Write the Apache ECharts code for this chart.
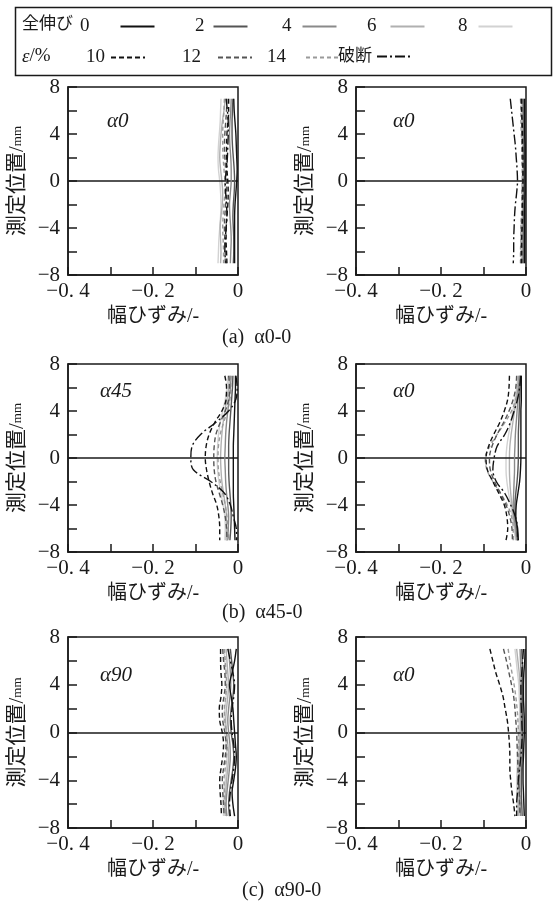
<!DOCTYPE html>
<html>
<head>
<meta charset="utf-8">
<script src="https://cdn.jsdelivr.net/npm/echarts/dist/echarts.min.js"></script>
<style>
html,body{margin:0;padding:0;background:#fff}
#main{width:553px;height:902px}
</style>
</head>
<body>
<div id="main"></div>
<script>
// 測定位置 (mm) - same for every curve
var yPos = [7, 6, 5, 4, 3, 2, 1, 0, -1, -2, -3, -4, -5, -6, -7];
// 全伸び ε/%
var strainNames = ['0', '2', '4', '6', '8', '10', '12', '14', '破断'];
var xTickLabels = ['−0. 4', '', '−0. 2', '', '0'];
var yTickLabels = ['−8', '', '−4', '', '0', '', '4', '', '8'];
var panelTags = ['α0', 'α0', 'α45', 'α0', 'α90', 'α0'];
var captions = ['(a)  α0-0', '(b)  α45-0', '(c)  α90-0'];

// 幅ひずみ, one row per strain (0,2,4,6,8,10,12,14,破断), values at yPos
var panelA_left = [
  [-0.010,-0.009,-0.007,-0.005,-0.004,-0.003,-0.002,-0.003,-0.005,-0.007,-0.008,-0.008,-0.008,-0.008,-0.008],
  [-0.012,-0.013,-0.014,-0.014,-0.013,-0.011,-0.009,-0.008,-0.009,-0.011,-0.012,-0.011,-0.010,-0.010,-0.011],
  [-0.016,-0.017,-0.019,-0.020,-0.019,-0.017,-0.016,-0.016,-0.018,-0.020,-0.019,-0.017,-0.016,-0.017,-0.018],
  [-0.030,-0.033,-0.037,-0.040,-0.042,-0.043,-0.041,-0.038,-0.036,-0.037,-0.040,-0.042,-0.041,-0.040,-0.041],
  [-0.040,-0.041,-0.042,-0.044,-0.046,-0.047,-0.046,-0.043,-0.041,-0.040,-0.041,-0.043,-0.045,-0.046,-0.047],
  [-0.022,-0.022,-0.024,-0.026,-0.027,-0.027,-0.026,-0.024,-0.023,-0.024,-0.026,-0.028,-0.028,-0.027,-0.026],
  [-0.026,-0.027,-0.029,-0.031,-0.032,-0.031,-0.029,-0.027,-0.027,-0.029,-0.031,-0.032,-0.031,-0.030,-0.030],
  [-0.032,-0.033,-0.035,-0.036,-0.036,-0.035,-0.033,-0.031,-0.031,-0.033,-0.035,-0.036,-0.035,-0.034,-0.034],
  [-0.028,-0.025,-0.023,-0.023,-0.024,-0.025,-0.027,-0.030,-0.029,-0.027,-0.026,-0.028,-0.030,-0.031,-0.028]
];
var panelA_right = [
  [-0.003,-0.003,-0.003,-0.003,-0.002,-0.002,-0.002,-0.002,-0.002,-0.003,-0.003,-0.003,-0.003,-0.003,-0.003],
  [-0.005,-0.005,-0.005,-0.004,-0.004,-0.004,-0.004,-0.004,-0.004,-0.004,-0.005,-0.005,-0.005,-0.005,-0.005],
  [-0.007,-0.007,-0.006,-0.006,-0.005,-0.005,-0.005,-0.005,-0.005,-0.006,-0.006,-0.007,-0.007,-0.007,-0.007],
  [-0.009,-0.008,-0.008,-0.007,-0.007,-0.006,-0.006,-0.006,-0.007,-0.007,-0.008,-0.008,-0.009,-0.009,-0.009],
  [-0.011,-0.010,-0.009,-0.009,-0.008,-0.008,-0.007,-0.007,-0.008,-0.009,-0.009,-0.010,-0.010,-0.011,-0.011],
  [-0.010,-0.010,-0.009,-0.008,-0.008,-0.007,-0.007,-0.007,-0.007,-0.008,-0.008,-0.009,-0.010,-0.010,-0.010],
  [-0.012,-0.011,-0.010,-0.010,-0.009,-0.009,-0.008,-0.008,-0.009,-0.009,-0.010,-0.011,-0.011,-0.012,-0.012],
  [-0.013,-0.012,-0.012,-0.011,-0.010,-0.010,-0.009,-0.009,-0.010,-0.010,-0.011,-0.012,-0.012,-0.013,-0.013],
  [-0.037,-0.034,-0.031,-0.028,-0.025,-0.023,-0.021,-0.020,-0.022,-0.025,-0.027,-0.028,-0.029,-0.029,-0.030]
];
var panelB_left = [
  [-0.006,-0.006,-0.007,-0.008,-0.009,-0.010,-0.011,-0.011,-0.011,-0.011,-0.011,-0.010,-0.009,-0.008,-0.007],
  [-0.012,-0.013,-0.015,-0.017,-0.019,-0.021,-0.022,-0.022,-0.022,-0.021,-0.019,-0.017,-0.016,-0.017,-0.019],
  [-0.016,-0.018,-0.021,-0.024,-0.027,-0.029,-0.030,-0.031,-0.030,-0.029,-0.027,-0.024,-0.022,-0.023,-0.024],
  [-0.020,-0.022,-0.026,-0.031,-0.035,-0.038,-0.040,-0.041,-0.040,-0.038,-0.034,-0.030,-0.027,-0.027,-0.028],
  [-0.024,-0.026,-0.030,-0.036,-0.042,-0.046,-0.048,-0.049,-0.048,-0.045,-0.040,-0.035,-0.031,-0.030,-0.031],
  [-0.031,-0.027,-0.028,-0.038,-0.055,-0.068,-0.075,-0.077,-0.074,-0.068,-0.060,-0.050,-0.045,-0.043,-0.043],
  [-0.022,-0.020,-0.022,-0.030,-0.042,-0.052,-0.056,-0.057,-0.056,-0.052,-0.044,-0.036,-0.030,-0.027,-0.026],
  [-0.018,-0.017,-0.019,-0.025,-0.034,-0.042,-0.046,-0.047,-0.046,-0.042,-0.036,-0.030,-0.026,-0.023,-0.022],
  [-0.005,-0.002,-0.005,-0.022,-0.053,-0.088,-0.108,-0.111,-0.105,-0.064,-0.032,-0.018,-0.011,-0.004,-0.003]
];
var panelB_right = [
  [-0.011,-0.011,-0.011,-0.012,-0.012,-0.012,-0.012,-0.012,-0.013,-0.015,-0.019,-0.023,-0.024,-0.020,-0.018],
  [-0.013,-0.014,-0.015,-0.016,-0.017,-0.018,-0.018,-0.018,-0.019,-0.021,-0.024,-0.026,-0.025,-0.021,-0.019],
  [-0.015,-0.017,-0.019,-0.021,-0.023,-0.025,-0.026,-0.027,-0.027,-0.028,-0.029,-0.030,-0.028,-0.024,-0.021],
  [-0.017,-0.020,-0.023,-0.027,-0.031,-0.035,-0.038,-0.039,-0.039,-0.038,-0.036,-0.033,-0.030,-0.026,-0.023],
  [-0.019,-0.022,-0.026,-0.031,-0.036,-0.041,-0.045,-0.047,-0.047,-0.045,-0.041,-0.036,-0.032,-0.028,-0.025],
  [-0.039,-0.040,-0.043,-0.051,-0.062,-0.076,-0.088,-0.094,-0.091,-0.078,-0.064,-0.051,-0.045,-0.043,-0.047],
  [-0.022,-0.024,-0.030,-0.040,-0.053,-0.068,-0.080,-0.086,-0.084,-0.074,-0.060,-0.047,-0.038,-0.033,-0.032],
  [-0.016,-0.018,-0.024,-0.034,-0.050,-0.068,-0.085,-0.096,-0.092,-0.078,-0.060,-0.044,-0.034,-0.030,-0.030],
  [-0.012,-0.015,-0.020,-0.028,-0.037,-0.050,-0.068,-0.075,-0.078,-0.070,-0.050,-0.036,-0.025,-0.020,-0.020]
];
var panelC_left = [
  [-0.004,-0.008,-0.014,-0.020,-0.016,-0.012,-0.010,-0.008,-0.006,-0.004,-0.006,-0.010,-0.014,-0.012,-0.008],
  [-0.018,-0.015,-0.012,-0.010,-0.012,-0.016,-0.018,-0.016,-0.012,-0.010,-0.012,-0.016,-0.020,-0.022,-0.020],
  [-0.022,-0.020,-0.018,-0.017,-0.019,-0.022,-0.024,-0.022,-0.019,-0.018,-0.020,-0.023,-0.026,-0.028,-0.026],
  [-0.028,-0.026,-0.024,-0.022,-0.024,-0.027,-0.029,-0.027,-0.024,-0.022,-0.024,-0.027,-0.029,-0.031,-0.030],
  [-0.033,-0.031,-0.028,-0.026,-0.028,-0.031,-0.033,-0.031,-0.028,-0.026,-0.027,-0.030,-0.033,-0.035,-0.034],
  [-0.041,-0.041,-0.040,-0.038,-0.040,-0.044,-0.043,-0.037,-0.034,-0.036,-0.040,-0.043,-0.042,-0.040,-0.039],
  [-0.036,-0.034,-0.031,-0.030,-0.033,-0.037,-0.036,-0.031,-0.028,-0.030,-0.034,-0.037,-0.036,-0.034,-0.033],
  [-0.032,-0.030,-0.028,-0.027,-0.029,-0.032,-0.031,-0.027,-0.025,-0.027,-0.030,-0.033,-0.032,-0.030,-0.029],
  [-0.024,-0.018,-0.012,-0.008,-0.010,-0.014,-0.016,-0.014,-0.010,-0.008,-0.010,-0.014,-0.018,-0.020,-0.018]
];
var panelC_right = [
  [-0.002,-0.003,-0.005,-0.006,-0.006,-0.005,-0.004,-0.004,-0.005,-0.006,-0.007,-0.007,-0.006,-0.005,-0.004],
  [-0.010,-0.009,-0.008,-0.008,-0.008,-0.008,-0.008,-0.008,-0.008,-0.009,-0.010,-0.011,-0.011,-0.010,-0.009],
  [-0.014,-0.013,-0.012,-0.011,-0.011,-0.011,-0.011,-0.011,-0.012,-0.013,-0.014,-0.015,-0.015,-0.014,-0.013],
  [-0.022,-0.019,-0.016,-0.014,-0.013,-0.013,-0.013,-0.014,-0.015,-0.016,-0.018,-0.019,-0.019,-0.018,-0.017],
  [-0.026,-0.023,-0.020,-0.017,-0.016,-0.015,-0.016,-0.017,-0.018,-0.020,-0.021,-0.022,-0.022,-0.021,-0.020],
  [-0.085,-0.078,-0.071,-0.062,-0.054,-0.049,-0.044,-0.041,-0.039,-0.038,-0.038,-0.036,-0.033,-0.029,-0.026],
  [-0.053,-0.046,-0.040,-0.034,-0.029,-0.026,-0.024,-0.022,-0.021,-0.020,-0.019,-0.018,-0.016,-0.015,-0.014],
  [-0.042,-0.038,-0.033,-0.028,-0.024,-0.021,-0.019,-0.018,-0.017,-0.017,-0.016,-0.016,-0.015,-0.014,-0.014],
  [-0.006,-0.008,-0.010,-0.012,-0.012,-0.011,-0.010,-0.009,-0.010,-0.012,-0.015,-0.018,-0.020,-0.022,-0.022]
];

var panels = [panelA_left, panelA_right, panelB_left, panelB_right, panelC_left, panelC_right];

var FONT = "'Liberation Serif', 'Noto Sans CJK JP', serif";
var INK = '#1a1a1a';

var lineStyles = [
  {color: '#111111', type: 'solid', z: 9},
  {color: '#555555', type: 'solid', z: 7},
  {color: '#8a8a8a', type: 'solid', z: 5},
  {color: '#b0b0b0', type: 'solid', z: 3},
  {color: '#d2d2d2', type: 'solid', z: 2},
  {color: '#111111', type: [5, 3], z: 8},
  {color: '#555555', type: [5, 3], z: 6},
  {color: '#9a9a9a', type: [4, 3], z: 4},
  {color: '#111111', type: [10, 3, 2, 3], z: 10}
];

var gridBoxes = [
  {left: 68, top: 87, width: 170, height: 188},
  {left: 356, top: 87, width: 170, height: 188},
  {left: 68, top: 364, width: 170, height: 188},
  {left: 356, top: 364, width: 170, height: 188},
  {left: 68, top: 637, width: 170, height: 191},
  {left: 356, top: 637, width: 170, height: 191}
];
var tagPos = [[107, 121], [393, 121], [100, 391], [393, 391], [100, 675], [393, 675]];
var captionPos = [[222, 338], [222, 613], [242, 891]];

// legend item: text left, row top, extra gap between text and line
var legendPos = [
  {left: 80, top: 17, gap: 26}, {left: 195, top: 17, gap: 4}, {left: 282, top: 17, gap: 6},
  {left: 367, top: 17, gap: 9}, {left: 458, top: 17, gap: 6},
  {left: 86, top: 48, gap: 1}, {left: 182, top: 48, gap: 12}, {left: 267, top: 48, gap: 15},
  {left: 338, top: 48, gap: 0}
];

var myChart = echarts.init(document.getElementById('main'), null, {renderer: 'canvas'});

var grids = [], xAxes = [], yAxes = [], series = [];
gridBoxes.forEach(function (g, gi) {
  grids.push({
    left: g.left, top: g.top, width: g.width, height: g.height,
    show: true, borderColor: INK, borderWidth: 1.5, backgroundColor: 'transparent',
    containLabel: false, outerBoundsMode: 'none'
  });
  xAxes.push({
    gridIndex: gi, type: 'value', min: -0.4, max: 0, interval: 0.1,
    name: '幅ひずみ/-', nameLocation: 'middle', nameGap: 32,
    nameTextStyle: {fontFamily: FONT, fontSize: 20, color: INK},
    axisLine: {show: true, onZero: false, lineStyle: {color: INK, width: 1.5}},
    axisTick: {show: true, inside: true, length: 8, lineStyle: {color: INK, width: 1.5}},
    axisLabel: {
      fontFamily: FONT, fontSize: 21, color: INK, margin: 6,
      formatter: function (v) { return xTickLabels[Math.round(v * 10) + 4] || ''; }
    },
    splitLine: {show: false}
  });
  yAxes.push({
    gridIndex: gi, type: 'value', min: -8, max: 8, interval: 2,
    name: '{a|測定位置/}{b|mm}', nameLocation: 'middle', nameGap: 40, nameRotate: 90,
    nameTextStyle: {
      color: INK,
      rich: {
        a: {fontFamily: FONT, fontSize: 21, color: INK},
        b: {fontFamily: FONT, fontSize: 13, color: INK}
      }
    },
    axisLine: {show: true, onZero: false, lineStyle: {color: INK, width: 1.5}},
    axisTick: {show: true, inside: true, length: 9, lineStyle: {color: INK, width: 1.5}},
    axisLabel: {
      fontFamily: FONT, fontSize: 21, color: INK, margin: 8,
      formatter: function (v) { return yTickLabels[Math.round((v + 8) / 2)] || ''; }
    },
    splitLine: {show: false}
  });
});

panels.forEach(function (panel, gi) {
  panel.forEach(function (xs, si) {
    var st = lineStyles[si];
    var s = {
      name: strainNames[si],
      type: 'line',
      xAxisIndex: gi,
      yAxisIndex: gi,
      data: xs.map(function (x, k) { return [x, yPos[k]]; }),
      symbol: 'none',
      showSymbol: false,
      smooth: 0.35,
      color: st.color,
      z: st.z,
      lineStyle: {color: st.color, width: 1.4, type: st.type},
      silent: true
    };
    if (si === 0) {
      s.markLine = {
        silent: true, symbol: 'none', animation: false,
        label: {show: false},
        lineStyle: {color: INK, width: 1.5, type: 'solid'},
        data: [{yAxis: 0}]
      };
    }
    series.push(s);
  });
});

var legends = strainNames.map(function (name, i) {
  var p = legendPos[i];
  return {
    data: [name],
    left: p.left, top: p.top,
    orient: 'horizontal', align: 'right',
    padding: 0, itemWidth: 34, itemHeight: 10,
    selectedMode: false,
    itemStyle: {opacity: 0, borderWidth: 0},
    textStyle: {fontFamily: FONT, fontSize: name === '破断' ? 17 : 19, color: INK, padding: [0, p.gap, 0, 0]}
  };
});

var graphics = [
  {type: 'rect', left: 13, top: 5, shape: {width: 536, height: 68},
   style: {fill: 'none', stroke: INK, lineWidth: 1.5}},
  {type: 'text', left: 22, top: 16, style: {text: '全伸び', font: '17px ' + FONT, fill: INK}},
  {type: 'text', left: 22, top: 47, style: {text: '{e|ε}/%', font: '19px ' + FONT, fill: INK,
    rich: {e: {fontFamily: FONT, fontSize: 19, fontStyle: 'italic', fill: INK}}}}
];
tagPos.forEach(function (p, i) {
  graphics.push({type: 'text', x: p[0], y: p[1],
    style: {text: panelTags[i], font: 'italic 21px ' + FONT, fill: INK, verticalAlign: 'middle'}});
});
captionPos.forEach(function (p, i) {
  graphics.push({type: 'text', x: p[0], y: p[1],
    style: {text: captions[i], font: '20px ' + FONT, fill: INK, verticalAlign: 'middle'}});
});

var option = {
  backgroundColor: '#fff',
  animation: false,
  grid: grids,
  xAxis: xAxes,
  yAxis: yAxes,
  legend: legends,
  series: series,
  graphic: graphics
};
myChart.setOption(option);
</script>
</body>
</html>
